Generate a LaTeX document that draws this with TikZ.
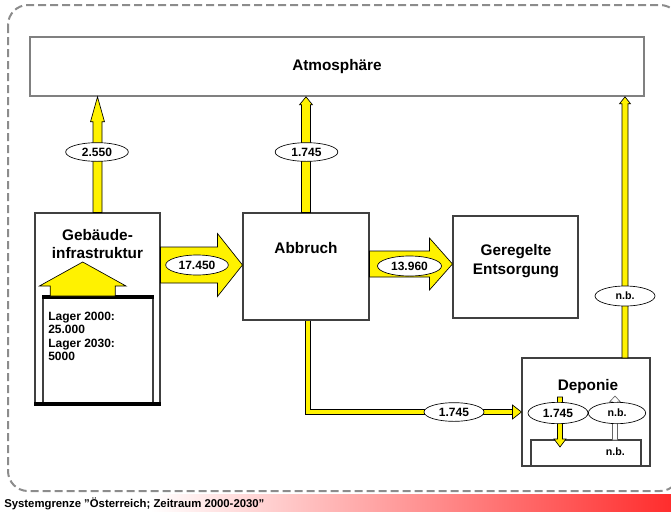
\documentclass[tikz,border=0pt]{standalone}
\usepackage{fontspec}
\setmainfont{Liberation Sans}
\usetikzlibrary{calc,fit,shapes.geometric}

% block arrows: [style]{tail}{tip}{half shaft}{half head}{head length}
\newcommand{\vflow}[6][flow]{%
  \filldraw[#1] ($(#2)+(-#4,0)$) -- ($(#3)+(-#4,#6)$) -- ++(#4-#5,0) -- (#3)
    -- ++(#5,#6) -- ++(#4-#5,0) -- ($(#2)+(#4,0)$) -- cycle;}
\newcommand{\hflow}[6][flow]{%
  \filldraw[#1] ($(#2)+(0,-#4)$) -- ($(#3)+(-#6,-#4)$) -- ++(0,#4-#5) -- (#3)
    -- ++(-#6,#5) -- ++(0,#4-#5) -- ($(#2)+(0,#4)$) -- cycle;}

\begin{document}
\begin{tikzpicture}[
    x=0.75pt, y=-0.75pt,
    font=\bfseries,
    box/.style={draw=black!75, line width=0.8pt, fill=white, inner sep=0pt},
    flow/.style={fill=yellow, draw=black, line width=0.5pt},
    hollow/.style={fill=white, draw=black!60, line width=0.5pt},
    flowline/.style={draw=black, line width=0.5pt, double=yellow, double distance=3pt},
    val/.style={ellipse, draw=black, line width=0.5pt, fill=white, inner sep=0pt,
        minimum width=47pt, minimum height=14pt, font=\bfseries\fontsize{9}{10}\selectfont},
    small/.style={font=\bfseries\fontsize{8}{9}\selectfont},
    big/.style={font=\bfseries\fontsize{11.5}{14}\selectfont, align=center},
    bar/.style={line width=3pt, black}
]
    \useasboundingbox (0,0) rectangle (671,511);

    % --- system boundary ---
    \draw[black!45, line width=1.5pt, dash pattern=on 6pt off 3pt, rounded corners=15pt]
        (8,5) rectangle (680,491);
    \shade[left color=white, right color={rgb,255:red,255;green,45;blue,45}]
        (150,494) rectangle (671,512);
    \node[anchor=base west, inner sep=0pt, font=\bfseries\fontsize{8.5}{10}\selectfont] (sysg)
        at (4,507.5) {Systemgrenze \symbol{34}Österreich; Zeitraum 2000-2030\symbol{34}};

    % --- processes ---
    \node[box, draw=black!50, line width=1.2pt, fit={(30,37) (644,96)}] (atm) {};
    \node[big] (atmtxt) at (atm.center) {Atmosphäre};

    \node[box, fit={(35,213) (160,403)}] (geb) {};
    \node[big] (gebtxt) at (97.5,244) {Gebäude-\\infrastruktur};
    \node[box, fit={(43,298) (153,403)}] (lager) {};
    \draw[bar] (lager.north west) -- (lager.north east);
    \draw[bar] (geb.south west) -- (geb.south east);
    \node[anchor=north west, align=left, inner sep=0pt,
          font=\bfseries\fontsize{9}{10}\selectfont] (lagertxt)
        at (48,312) {Lager 2000:\\25.000\\Lager 2030:\\5000};
    \coordinate (hbase) at (82.7,296);
    \coordinate (htip) at (82.7,262);
    \vflow{hbase}{htip}{32.5}{43.3}{24}

    \node[box, fit={(243,213) (369,320)}] (abb) {};
    \node[big] (abbtxt) at (306,248) {Abbruch};

    \node[box, fit={(453,216) (578,318)}] (ger) {};
    \node[big] (gertxt) at (516,261) {Geregelte\\Entsorgung};

    \node[box, fit={(522,358) (650,466)}] (dep) {};
    \node[big] (deptxt) at (588,387) {Deponie};
    \node[box, fit={(531,440) (641,466)}] (depin) {};
    \node[small, anchor=east, inner sep=0pt] (depnb) at (625,452) {n.b.};

    % --- flows to the atmosphere ---
    \vflow{geb.north}{geb.north |- atm.south}{4.5}{7}{25}
    \node[val] (v2550) at (97,152) {2.550};

    \vflow{abb.north}{abb.north |- atm.south}{4.5}{6.5}{8}
    \node[val] (v1745a) at (306.5,152) {1.745};

    \coordinate (depout) at (625,358);
    \vflow{depout}{depout |- atm.south}{3}{5.5}{7}
    \node[val, small, minimum width=45pt, minimum height=15pt] (vnbatm) at (625,296) {n.b.};

    % --- main flows ---
    \coordinate (r17) at (0,265);
    \hflow{geb.east |- r17}{abb.west |- r17}{18}{31.5}{25}
    \node[val, minimum height=15pt] (v17450) at (197,265) {17.450};

    \coordinate (r13) at (0,264);
    \hflow{abb.east |- r13}{ger.west |- r13}{13}{26}{23}
    \node[val, minimum width=48pt, minimum height=15pt] (v13960) at (409.5,266) {13.960};

    \coordinate (abbout) at ($(abb.south)+(2,0)$);
    \draw[flowline] (abbout) |- ($(dep.west)+(-9,0)$);
    \filldraw[flow] (dep.west) -- ++(-9,-7) -- ++(0,14) -- cycle;
    \node[val, minimum width=45pt] (v1745b) at (454,412) {1.745};

    % --- inside the landfill ---
    \coordinate (dtop) at (560,397);
    \coordinate (dtip) at (560,447);
    \vflow{dtop}{dtip}{2.5}{6}{-8}
    \coordinate (wtail) at (615,440);
    \coordinate (wtip) at (615,396);
    \vflow[hollow]{wtail}{wtip}{2.5}{5.5}{6}
    \node[val, minimum width=45pt, minimum height=16pt] (v1745c) at (558,413) {1.745};
    \node[val, small, minimum width=43pt, minimum height=16pt] (vnbdep) at (617,413) {n.b.};

\end{tikzpicture}
\end{document}
